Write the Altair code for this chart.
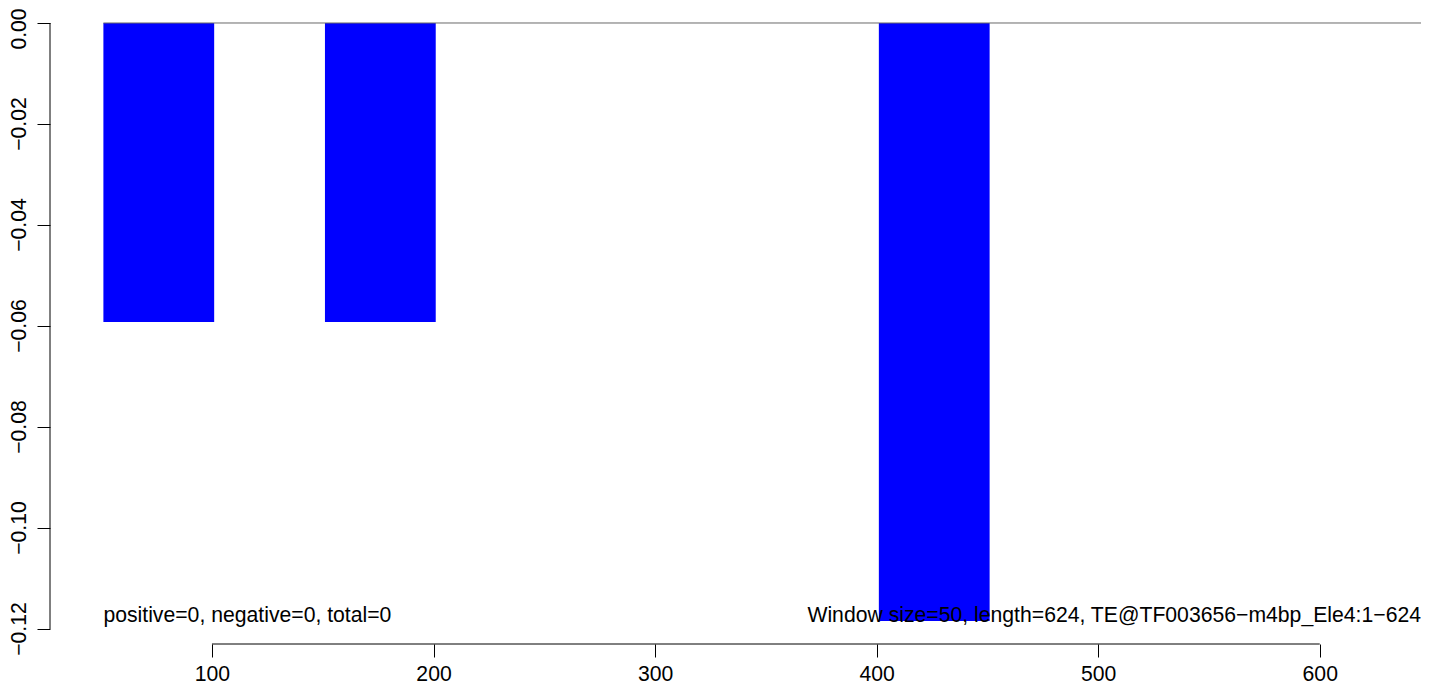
import altair as alt
import pandas as pd

# Window bars (start, end, value)
bar_start = [51, 151, 401]
bar_end = [101, 201, 451]
bar_value = [-0.0592, -0.0592, -0.1184]

x_ticks = [100, 200, 300, 400, 500, 600]
y_ticks = [0.0, -0.02, -0.04, -0.06, -0.08, -0.10, -0.12]

x_domain = [26.9, 645.7]
y_domain = [-0.12297, 0.00297]

left_text = "positive=0, negative=0, total=0"
right_text = "Window size=50, length=624, TE@TF003656\u2212m4bp_Ele4:1\u2212624"

FONT = "Liberation Sans"
FS = 21.2
W, H = 1371, 636

bars_df = pd.DataFrame({"start": bar_start, "end": bar_end, "value": bar_value,
                        "base": [0.0] * len(bar_value)})

xs = alt.Scale(domain=x_domain, nice=False, zero=False)
ys = alt.Scale(domain=y_domain, nice=False, zero=False)

x_axis = alt.Axis(values=x_ticks, title=None, domain=False, grid=False, tickSize=13,
                  tickColor="black", tickWidth=1, labelFont=FONT, labelFontSize=FS,
                  labelColor="black", labelBaseline="alphabetic", labelPadding=23,
                  labelFlush=False, labelOverlap=False, format="d")
y_axis = alt.Axis(values=y_ticks, title=None, domain=False, grid=False, tickSize=13,
                  tickColor="black", tickWidth=1, labels=False)


def X(field):
    return alt.X(field, scale=xs, axis=x_axis)


def Y(field):
    return alt.Y(field, scale=ys, axis=y_axis)


bars = alt.Chart(bars_df).mark_rect(color="#0000FF").encode(
    x=X("start:Q"), x2="end:Q", y=Y("value:Q"), y2="base:Q",
)

zero_df = pd.DataFrame({"x1": [bar_start[0]], "x2": [x_domain[1]], "y": [0.0]})
zero_line = alt.Chart(zero_df).mark_rule(color="#6a6a6a", strokeWidth=1).encode(
    x=X("x1:Q"), x2="x2:Q", y=Y("y:Q"),
)

yline_df = pd.DataFrame({"y1": [y_ticks[0]], "y2": [y_ticks[-1]]})
y_line = alt.Chart(yline_df).mark_rule(color="black", strokeWidth=1).encode(
    x=alt.value(0), y=Y("y1:Q"), y2="y2:Q",
)

xline_df = pd.DataFrame({"x1": [x_ticks[0]], "x2": [x_ticks[-1]]})
x_line = alt.Chart(xline_df).mark_rule(color="black", strokeWidth=1).encode(
    y=alt.value(H), x=X("x1:Q"), x2="x2:Q",
)

# y tick labels (rotated, R style)
ylab_df = pd.DataFrame({"v": y_ticks[1:]})
ytop_df = pd.DataFrame({"v": y_ticks[:1]})
ylabels = alt.Chart(ylab_df).mark_text(
    angle=270, align="center", baseline="alphabetic", font=FONT, fontSize=FS, color="black"
).encode(x=alt.value(-24), y=Y("v:Q"), text=alt.Text("v:Q", format=".2f"))
ytop = alt.Chart(ytop_df).mark_text(
    angle=270, align="center", baseline="alphabetic", font=FONT, fontSize=FS, color="black",
    dx=-6
).encode(x=alt.value(-24), y=Y("v:Q"), text=alt.Text("v:Q", format=".2f"))

left_df = pd.DataFrame({"x": [bar_start[0]], "y": [-0.1186], "label": [left_text]})
right_df = pd.DataFrame({"x": [x_domain[1]], "y": [-0.1186], "label": [right_text]})

left_t = alt.Chart(left_df).mark_text(
    align="left", baseline="alphabetic", font=FONT, fontSize=FS, color="black"
).encode(x=X("x:Q"), y=Y("y:Q"), text="label:N")
right_t = alt.Chart(right_df).mark_text(
    align="right", baseline="alphabetic", font=FONT, fontSize=FS, color="black"
).encode(x=X("x:Q"), y=Y("y:Q"), text="label:N")

chart = alt.layer(bars, zero_line, y_line, x_line, ylabels, ytop, left_t, right_t).properties(
    width=W, height=H,
    background="white",
    autosize=alt.AutoSizeParams(type="none"),
    padding={"left": 42, "top": 0, "right": 0, "bottom": 40},
).configure_view(stroke=None)

chart.save("out.html", embed_options={"renderer": "svg", "actions": False})
